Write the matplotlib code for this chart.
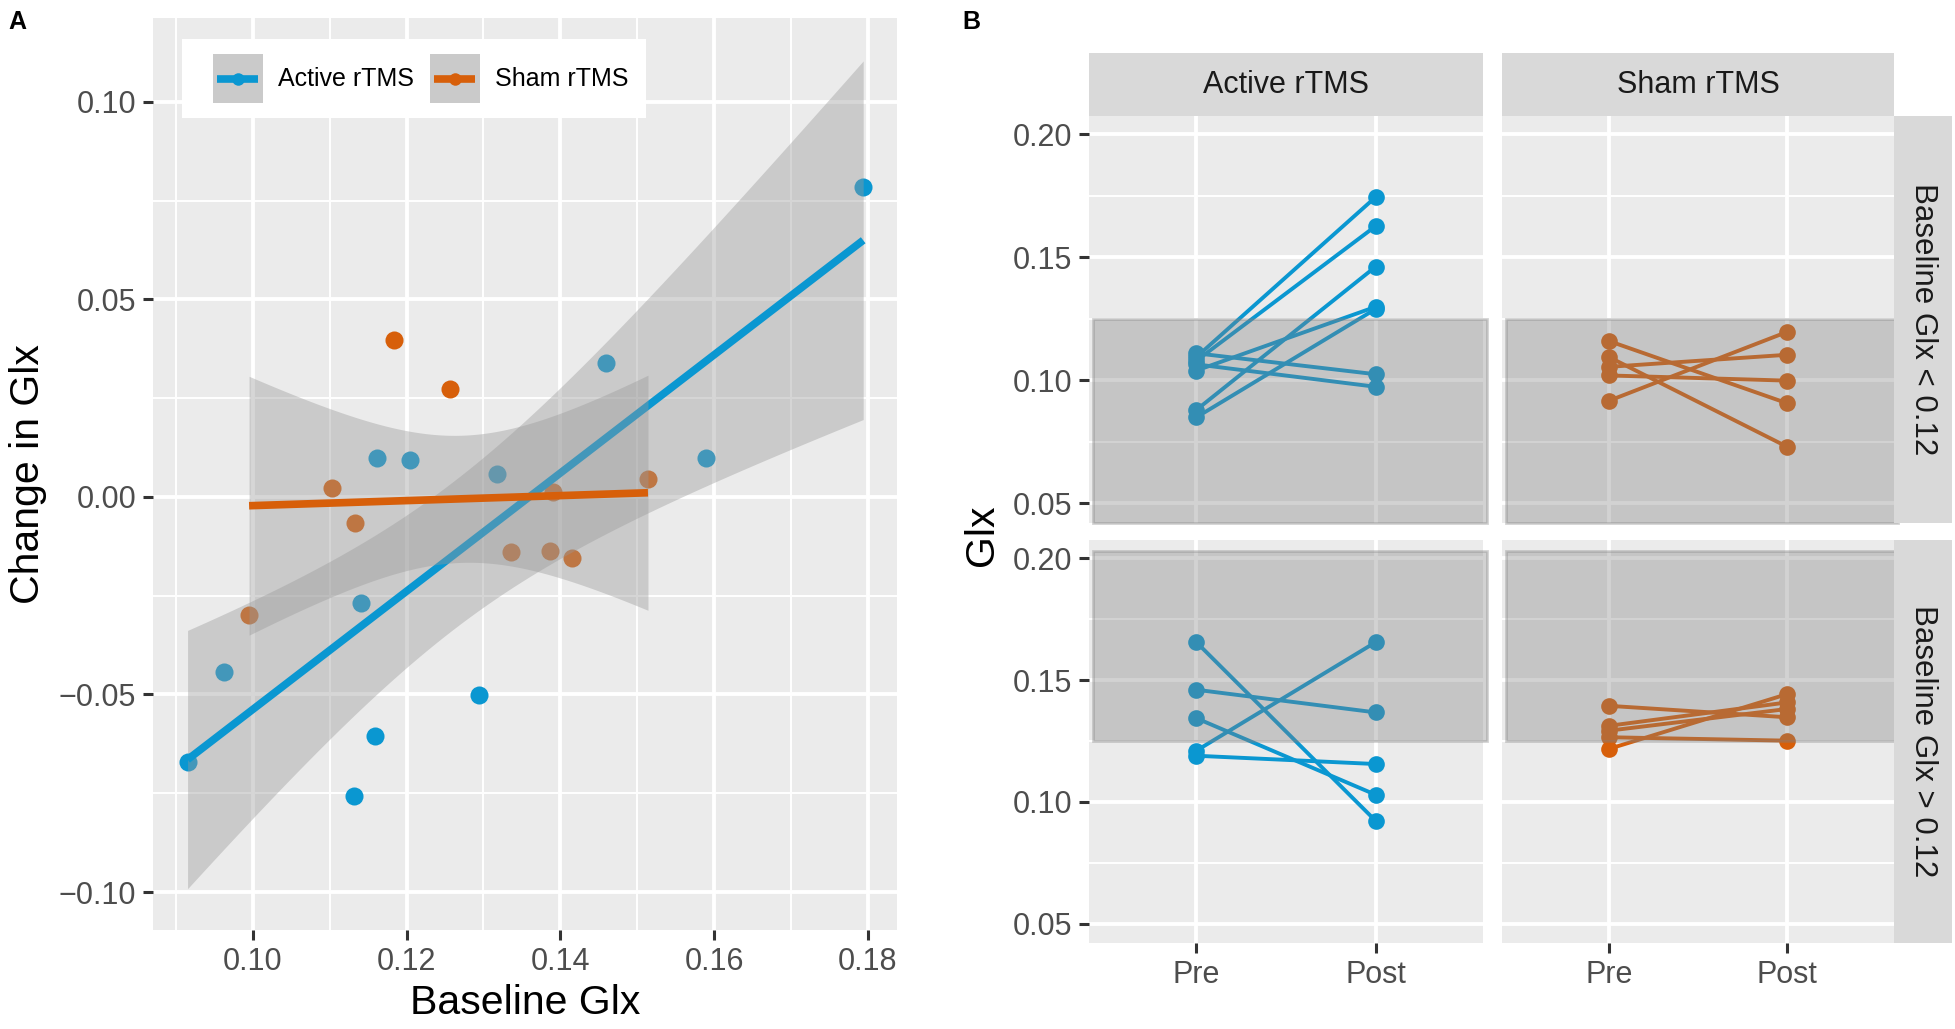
import numpy as np
import matplotlib.pyplot as plt
from matplotlib.patches import Rectangle

plt.rcParams['font.family'] = ['Liberation Sans', 'DejaVu Sans']

W, H = 1955, 1029
BLUE = '#0A97D1'
ORANGE = '#D75F0A'
PANEL_BG = '#EBEBEB'
STRIP_BG = '#D9D9D9'

# ---- panel A: baseline Glx vs change in Glx ----
active_base = [0.0915, 0.0962, 0.1131, 0.1141, 0.1159, 0.1161, 0.1204, 0.1294, 0.1318, 0.1460, 0.1589, 0.1794]
active_chg = [-0.0672, -0.0442, -0.0758, -0.0268, -0.0606, 0.0098, 0.0094, -0.0501, 0.0059, 0.0339, 0.0099, 0.0784]
sham_base = [0.0995, 0.1103, 0.1133, 0.1184, 0.1257, 0.1336, 0.1387, 0.1391, 0.1415, 0.1514]
sham_chg = [-0.0300, 0.0022, -0.0066, 0.0396, 0.0273, -0.0140, -0.0136, 0.0012, -0.0155, 0.0046]

a_xticks = [0.10, 0.12, 0.14, 0.16, 0.18]
a_xlabels = ['0.10', '0.12', '0.14', '0.16', '0.18']
a_yticks = [-0.10, -0.05, 0.00, 0.05, 0.10]
a_ylabels = ['\u22120.10', '\u22120.05', '0.00', '0.05', '0.10']

# ---- panel B: pre / post Glx per subject ----
groups = ['Active rTMS', 'Sham rTMS']
rows = ['Baseline Glx < 0.12', 'Baseline Glx > 0.12']
active_lo_pre = [0.1095, 0.1080, 0.1040, 0.1110, 0.1065, 0.0880, 0.0850]
active_lo_post = [0.1745, 0.1627, 0.1299, 0.1025, 0.0974, 0.1462, 0.1290]
sham_lo_pre = [0.1160, 0.1095, 0.1055, 0.1020, 0.0917]
sham_lo_post = [0.0907, 0.0730, 0.1104, 0.0999, 0.1197]
active_hi_pre = [0.1655, 0.1460, 0.1343, 0.1210, 0.1189]
active_hi_post = [0.0922, 0.1367, 0.1029, 0.1655, 0.1155]
sham_hi_pre = [0.1394, 0.1312, 0.1292, 0.1265, 0.1217]
sham_hi_post = [0.1347, 0.1408, 0.1381, 0.1251, 0.1442]
times = ['Pre', 'Post']
b_yticks = [0.05, 0.10, 0.15, 0.20]
b_ylabels = ['0.05', '0.10', '0.15', '0.20']

# t quantiles (0.975) for the lm confidence band
T975 = {8: 2.306, 10: 2.228}


def lm_band(x, y, n_grid=80):
    x = np.asarray(x)
    y = np.asarray(y)
    n = len(x)
    b1, b0 = np.polyfit(x, y, 1)
    xs = np.linspace(x.min(), x.max(), n_grid)
    fit = b0 + b1 * xs
    resid = y - (b0 + b1 * x)
    s = np.sqrt(np.sum(resid ** 2) / (n - 2))
    sxx = np.sum((x - x.mean()) ** 2)
    se = s * np.sqrt(1 / n + (xs - x.mean()) ** 2 / sxx)
    t = T975.get(n - 2, 2.0)
    return xs, fit, fit - t * se, fit + t * se


def style_ax(ax, fs=22):
    ax.set_facecolor(PANEL_BG)
    for sp in ax.spines.values():
        sp.set_visible(False)
    ax.set_axisbelow(True)
    ax.grid(which='major', color='white', lw=2.8)
    ax.grid(which='minor', color='white', lw=1.4)
    ax.tick_params(which='major', length=7, width=2.2, color='#333333',
                   labelsize=fs, labelcolor='#4D4D4D', pad=5)
    ax.tick_params(which='minor', length=0)


def fig_box(x0, y0, x1, y1):
    # pixel box (top-left origin) -> figure fraction rect
    return [x0 / W, 1 - y1 / H, (x1 - x0) / W, (y1 - y0) / H]


fig = plt.figure(figsize=(W / 100, H / 100), dpi=100)

# ================= Panel A =================
axA = fig.add_axes(fig_box(153, 18, 897, 930))
style_ax(axA)
axA.plot(active_base, active_chg, 'o', color=BLUE, ms=13, mew=0, zorder=2)
axA.plot(sham_base, sham_chg, 'o', color=ORANGE, ms=13, mew=0, zorder=2)
for i, (x, y, c) in enumerate([(active_base, active_chg, BLUE), (sham_base, sham_chg, ORANGE)]):
    xs, fit, lo, hi = lm_band(x, y)
    axA.fill_between(xs, lo, hi, color='#999999', alpha=0.4, lw=0, zorder=3 + 2 * i)
    axA.plot(xs, fit, color=c, lw=5.5, zorder=4 + 2 * i, solid_capstyle='butt')

axA.set_xlim(0.0870, 0.1838)
axA.set_ylim(-0.1096, 0.1212)
axA.set_xticks(a_xticks)
axA.set_xticklabels(a_xlabels)
axA.set_xticks([0.09, 0.11, 0.13, 0.15, 0.17], minor=True)
axA.set_yticks(a_yticks)
axA.set_yticklabels(a_ylabels)
axA.set_yticks([-0.075, -0.025, 0.025, 0.075], minor=True)

fig.text(28 / W, 1 - 474 / H, 'Change in Glx', rotation=90, fontsize=29.5,
         ha='center', va='center')
fig.text(525 / W, 1 - 1003 / H, 'Baseline Glx', fontsize=29.5, ha='center', va='center')

# legend (drawn by hand, ggplot style keys)
tA = axA.transAxes
axA.add_patch(Rectangle((0.039, 0.8904), 0.6236, 0.0866, transform=tA,
                        facecolor='white', edgecolor='none', zorder=10))
for kx, tx, c, lab in [(0.0806, 0.168, BLUE, groups[0]), (0.3723, 0.4597, ORANGE, groups[1])]:
    axA.add_patch(Rectangle((kx, 0.9068), 0.0672, 0.0537, transform=tA,
                            facecolor='#CACACA', edgecolor='none', zorder=11))
    axA.plot([kx + 0.006, kx + 0.061], [0.9336, 0.9336], transform=tA, color=c,
             lw=5.5, zorder=12, solid_capstyle='butt')
    axA.plot([kx + 0.0336], [0.9336], 'o', transform=tA, color=c, ms=9, mew=0, zorder=13)
    axA.text(tx, 0.9336, lab, transform=tA, fontsize=18, va='center', ha='left', zorder=13)

# ================= Panel B =================
col_x = [(1089, 1483), (1502, 1894)]
row_y = [(116, 523), (540, 943)]
panel_data = {
    (0, 0): (active_lo_pre, active_lo_post, BLUE),
    (0, 1): (sham_lo_pre, sham_lo_post, ORANGE),
    (1, 0): (active_hi_pre, active_hi_post, BLUE),
    (1, 1): (sham_hi_pre, sham_hi_post, ORANGE),
}
shade = {0: (0.042, 0.125), 1: (0.125, 0.203)}

for r in range(2):
    for c in range(2):
        x0, x1 = col_x[c]
        y0, y1 = row_y[r]
        ax = fig.add_axes(fig_box(x0, y0, x1, y1))
        style_ax(ax)
        pre, post, col = panel_data[(r, c)]
        for a, b in zip(pre, post):
            ax.plot([1, 2], [a, b], '-o', color=col, lw=2.8, ms=12, mew=0, zorder=3)
        lo, hi = shade[r]
        ax.add_patch(Rectangle((0.425, lo), 2.195, hi - lo, facecolor=(0.5, 0.5, 0.5, 0.35),
                               edgecolor=(0.5, 0.5, 0.5, 0.35), lw=2, zorder=5, clip_on=False))
        ax.set_xlim(0.4, 2.6)
        ax.set_ylim(0.042, 0.2075)
        ax.set_xticks([1, 2])
        ax.set_yticks(b_yticks)
        ax.set_yticks([0.075, 0.125, 0.175], minor=True)
        if r == 1:
            ax.set_xticklabels(times)
        else:
            ax.tick_params(axis='x', which='major', length=0, labelbottom=False)
        if c == 0:
            ax.set_yticklabels(b_ylabels)
        else:
            ax.tick_params(axis='y', which='major', length=0, labelleft=False)

# column strips
for c in range(2):
    x0, x1 = col_x[c]
    fig.add_artist(Rectangle((x0 / W, 1 - 116 / H), (x1 - x0) / W, 63 / H,
                             transform=fig.transFigure, facecolor=STRIP_BG, edgecolor='none'))
    fig.text((x0 + x1) / 2 / W, 1 - 85 / H, groups[c], fontsize=22, color='#1A1A1A',
             ha='center', va='center')
# row strips
for r in range(2):
    y0, y1 = row_y[r]
    fig.add_artist(Rectangle((1894 / W, 1 - y1 / H), 58 / W, (y1 - y0) / H,
                             transform=fig.transFigure, facecolor=STRIP_BG, edgecolor='none'))
    fig.text(1923 / W, 1 - (y0 + y1) / 2 / H, rows[r], fontsize=22.5, color='#1A1A1A',
             rotation=-90, ha='center', va='center')

fig.text(982 / W, 1 - 535 / H, 'Glx', rotation=90, fontsize=29.5, ha='center', va='center')

fig.text(8 / W, 1 - 10 / H, 'A', fontsize=18, fontweight='bold', va='top', ha='left')
fig.text(962 / W, 1 - 10 / H, 'B', fontsize=18, fontweight='bold', va='top', ha='left')

fig.savefig('out.png', dpi=100)
